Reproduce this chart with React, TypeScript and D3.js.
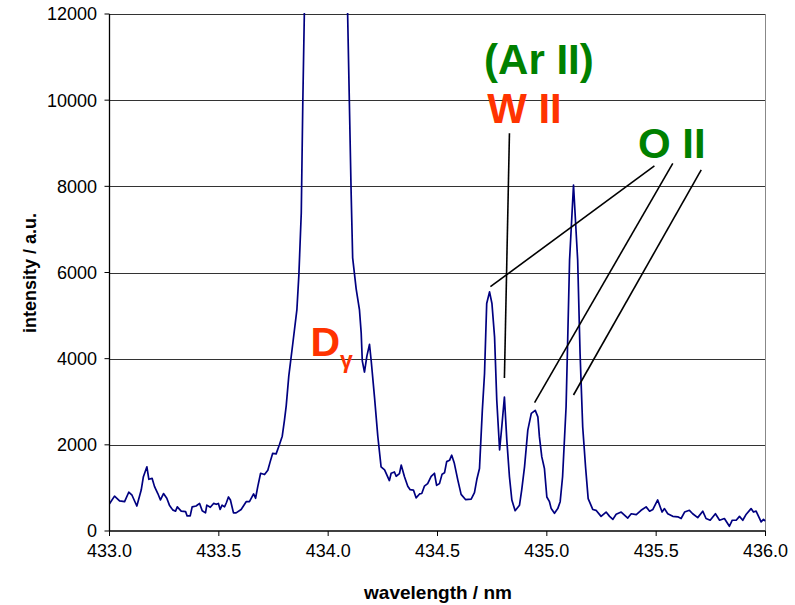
import React from "react";
import * as d3 from "d3";

const wavelengths = [
  433.0, 433.023, 433.046, 433.069, 433.088, 433.103, 433.125, 433.145, 433.155, 433.171,
  433.18, 433.195, 433.206, 433.221, 433.233, 433.247, 433.262, 433.274, 433.289, 433.302,
  433.31, 433.328, 433.348, 433.355, 433.369, 433.378, 433.396, 433.412, 433.424, 433.439,
  433.445, 433.461, 433.476, 433.488, 433.498, 433.506, 433.515, 433.526, 433.534, 433.544,
  433.553, 433.567, 433.579, 433.602, 433.625, 433.64, 433.659, 433.668, 433.678, 433.691,
  433.709, 433.724, 433.735, 433.746, 433.762, 433.777, 433.79, 433.8, 433.808, 433.82,
  433.838, 433.857, 433.866, 433.877, 433.884, 433.891, 433.9, 433.99, 434.082, 434.089,
  434.097, 434.105, 434.112, 434.128, 434.143, 434.151, 434.156, 434.166, 434.177, 434.189,
  434.197, 434.212, 434.227, 434.242, 434.258, 434.28, 434.288, 434.303, 434.311, 434.326,
  434.334, 434.349, 434.364, 434.375, 434.39, 434.402, 434.418, 434.428, 434.44, 434.455,
  434.471, 434.486, 434.496, 434.509, 434.521, 434.532, 434.542, 434.555, 434.565, 434.577,
  434.593, 434.608, 434.628, 434.654, 434.669, 434.68, 434.692, 434.705, 434.715, 434.725,
  434.738, 434.749, 434.761, 434.771, 434.784, 434.794, 434.806, 434.817, 434.829, 434.84,
  434.855, 434.875, 434.885, 434.898, 434.913, 434.929, 434.947, 434.959, 434.966, 434.977,
  434.989, 435.0, 435.012, 435.02, 435.035, 435.05, 435.061, 435.072, 435.088, 435.095,
  435.104, 435.122, 435.141, 435.152, 435.164, 435.177, 435.189, 435.21, 435.225, 435.248,
  435.271, 435.287, 435.302, 435.317, 435.34, 435.355, 435.37, 435.386, 435.409, 435.431,
  435.454, 435.47, 435.485, 435.507, 435.527, 435.538, 435.553, 435.576, 435.599, 435.614,
  435.63, 435.652, 435.667, 435.69, 435.713, 435.728, 435.747, 435.771, 435.79, 435.812,
  435.835, 435.848, 435.866, 435.881, 435.896, 435.912, 435.934, 435.945, 435.957, 435.98,
  435.991, 436.0,
];

const intensities = [
  630, 810, 700, 680, 900, 830, 580, 950, 1260, 1490,
  1200, 1220, 1030, 870, 720, 870, 760, 600, 490, 460,
  560, 460, 450, 350, 350, 560, 580, 640, 470, 420,
  600, 550, 640, 620, 640, 500, 600, 560, 650, 790,
  720, 420, 420, 500, 680, 680, 860, 760, 1030, 1340,
  1310, 1410, 1610, 1800, 1790, 2000, 2200, 2570, 2900, 3600,
  4340, 5140, 5940, 7380, 9940, 12000, 14500, 30000, 14500, 12000,
  9940, 7860, 6340, 5620, 5140, 4600, 3950, 3690, 4060, 4330,
  3940, 3100, 2200, 1490, 1420, 1170, 1340, 1370, 1270, 1330,
  1530, 1260, 1040, 960, 950, 770, 860, 870, 1040, 1100,
  1270, 1340, 1060, 1100, 1320, 1350, 1610, 1640, 1760, 1570,
  1180, 850, 730, 740, 890, 1200, 1450, 2800, 3650, 5280,
  5550, 5280, 4500, 3040, 1880, 2420, 3110, 2110, 1260, 720,
  470, 600, 950, 1490, 2340, 2730, 2800, 2650, 2190, 1720,
  1450, 790, 680, 520, 410, 520, 680, 1260, 2880, 4350,
  6290, 8030, 6290, 4120, 2420, 1490, 750, 500, 480, 340,
  440, 340, 270, 390, 440, 370, 300, 400, 380, 480,
  560, 460, 500, 720, 440, 520, 400, 340, 330, 290,
  440, 480, 400, 310, 460, 290, 250, 400, 250, 290,
  110, 250, 250, 340, 250, 390, 520, 440, 460, 210,
  270, 230,
];

const yTicks = [0, 2000, 4000, 6000, 8000, 10000, 12000];
const xTicks = [433.0, 433.5, 434.0, 434.5, 435.0, 435.5, 436.0];

// annotation lines: [wavelength1, intensity1, wavelength2, intensity2]
const annotationLines = [
  [434.742, 5671, 435.492, 8473],
  [434.806, 3552, 434.829, 9232],
  [434.944, 2978, 435.576, 8535],
  [435.122, 3157, 435.706, 8380],
];
const labelTexts = ["(Ar II)", "W II", "O II"];
const labelWavelengths = [434.713, 434.727, 435.417];
const labelIntensities = [10608, 9460, 8658];
const labelColors = ["#008000", "#FF3300", "#008000"];

export default function App() {
  const W = 795, H = 605;
  const x = d3.scaleLinear().domain([433, 436]).range([109.5, 765.5]);
  const y = d3.scaleLinear().domain([0, 12000]).range([531, 14]);
  const pts = wavelengths.map((w, i) => [w, intensities[i]] as [number, number]);
  const line = d3.line<[number, number]>().x((d) => x(d[0])).y((d) => y(d[1]));
  const font = "'Liberation Sans', Arial, sans-serif";
  const fmt = d3.format(".1f");
  return (
    <svg width={W} height={H} style={{ position: "absolute", left: 0, top: 0, background: "#fff" }} fontFamily={font}>
      <defs>
        <clipPath id="plotclip">
          <rect x={x(433)} y={y(12000) - 1} width={x(436) - x(433)} height={y(0) - y(12000) + 2} />
        </clipPath>
      </defs>
      {yTicks.filter((t) => t > 0).map((t) => (
        <line key={t} x1={x(433)} x2={x(436)} y1={Math.round(y(t)) + 0.5} y2={Math.round(y(t)) + 0.5}
          stroke="#333" strokeWidth={1} shapeRendering="crispEdges" />
      ))}
      <line x1={x(436)} x2={x(436)} y1={y(12000)} y2={y(0)} stroke="#888" strokeWidth={1} shapeRendering="crispEdges" />
      <path d={line(pts) || ""} fill="none" stroke="#000080" strokeWidth={1.7} clipPath="url(#plotclip)" strokeLinejoin="round" />
      {/* axes */}
      <line x1={x(433)} x2={x(433)} y1={y(12000)} y2={y(0)} stroke="#000" strokeWidth={1.3} />
      <line x1={x(433)} x2={x(436)} y1={y(0)} y2={y(0)} stroke="#000" strokeWidth={1.3} />
      {yTicks.map((t) => (
        <g key={t}>
          <line x1={x(433) - 5} x2={x(433)} y1={y(t)} y2={y(t)} stroke="#000" strokeWidth={1} />
          <text x={97} y={y(t)} dy="0.36em" textAnchor="end" fontSize={18}>{t}</text>
        </g>
      ))}
      {xTicks.map((t) => (
        <g key={t}>
          <line x1={x(t)} x2={x(t)} y1={y(0)} y2={y(0) + 5} stroke="#000" strokeWidth={1} />
          <text x={x(t)} y={557} textAnchor="middle" fontSize={18}>{fmt(t)}</text>
        </g>
      ))}
      <text x={438} y={599} textAnchor="middle" fontSize={19} fontWeight="bold">wavelength / nm</text>
      <text transform={`translate(36,273) rotate(-90)`} textAnchor="middle" fontSize={18} fontWeight="bold">intensity / a.u.</text>
      {/* annotations */}
      {annotationLines.map((a, i) => (
        <line key={i} x1={x(a[0])} y1={y(a[1])} x2={x(a[2])} y2={y(a[3])} stroke="#000" strokeWidth={1.6} />
      ))}
      {labelTexts.map((t, i) => (
        <text key={t} x={x(labelWavelengths[i])} y={y(labelIntensities[i])} fill={labelColors[i]} fontSize={42} fontWeight="bold">{t}</text>
      ))}
      <text x={x(433.919)} y={y(4000) - 3} fill="#FF3300" fontSize={41} fontWeight="bold">
        D<tspan fontSize={23} dy={12}>γ</tspan>
      </text>
    </svg>
  );
}
